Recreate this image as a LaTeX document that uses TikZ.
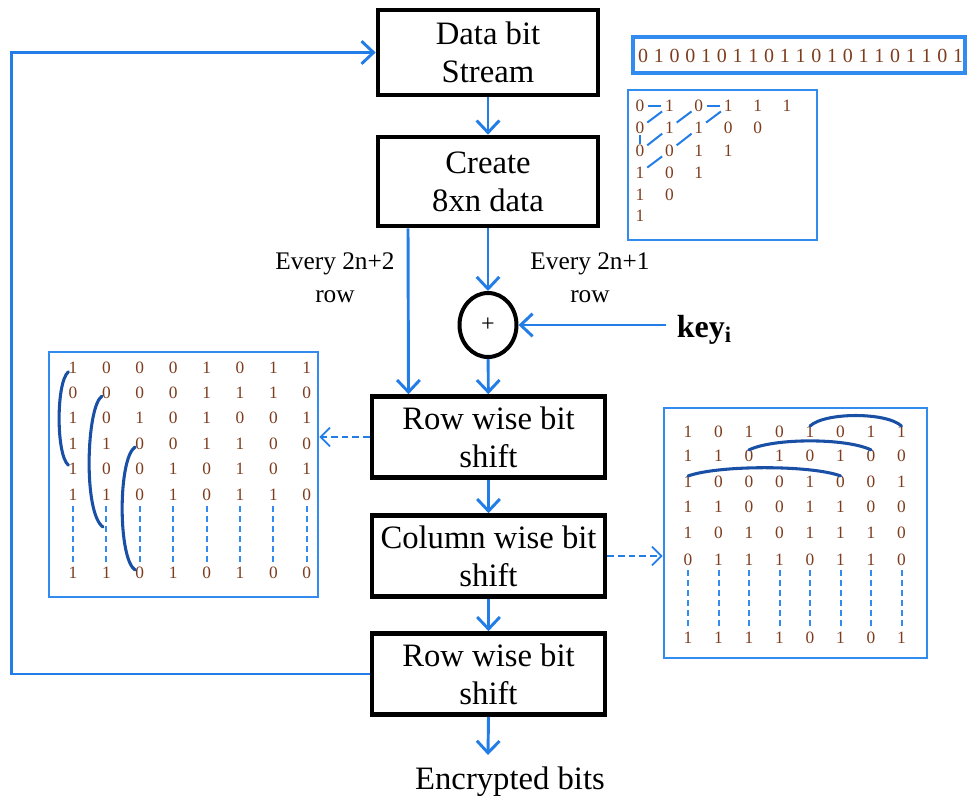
\documentclass[tikz,border=0pt]{standalone}
\usepackage{fontspec}
\setmainfont{Liberation Serif}
\usetikzlibrary{arrows.meta,shapes.geometric}

\definecolor{flowblue}{RGB}{35,125,230}
\definecolor{frameblue}{RGB}{50,140,240}
\definecolor{arcblue}{RGB}{25,80,165}
\definecolor{bitcol}{RGB}{125,60,30}

\tikzset{
  stage/.style={draw=black, line width=3.5pt, fill=white, align=center,
    font=\fontsize{24.5}{28.5}\selectfont, inner sep=0pt},
  flow/.style={draw=flowblue, line width=2.2pt,
    -{Straight Barb[length=9pt,width=17pt]}},
  peek/.style={draw=flowblue, line width=1.3pt, dash pattern=on 5pt off 3pt,
    -{Straight Barb[length=7pt,width=14pt]}},
  bitframe/.style={draw=frameblue, line width=2.2pt, inner sep=0pt},
  bit/.style={text=bitcol, font=\fontsize{13}{13}\selectfont, inner sep=0pt},
  streambit/.style={text=bitcol, font=\fontsize{15}{15}\selectfont, inner sep=0pt},
  colgap/.style={draw=frameblue, line width=1.5pt, dash pattern=on 4.5pt off 3pt},
  bitarc/.style={draw=arcblue, line width=2.3pt, line cap=round},
  zig/.style={draw=flowblue, line width=1.5pt, shorten <=2.5pt, shorten >=2.5pt},
  note/.style={align=center, font=\fontsize{19}{24.5}\selectfont, inner sep=0pt}
}

\begin{document}
\begin{tikzpicture}[x=0.75pt,y=-0.75pt]
\useasboundingbox (0,0) rectangle (974,800);

% ---------- main pipeline ----------
\node[stage, minimum width=165pt, minimum height=63.75pt] (data) at (488,52.5) {Data bit\\Stream};
\node[stage, minimum width=165pt, minimum height=66.75pt] (create) at (488,181.5) {Create\\8xn data};
\node[draw=black, line width=3pt, ellipse, minimum width=42.75pt, minimum height=48pt,
      inner sep=0pt, font=\fontsize{18}{18}\selectfont] (xor) at (488,325) {+};
\node[stage, minimum width=174.75pt, minimum height=60.75pt] (row1) at (488.5,437) {Row wise bit\\shift};
\node[stage, minimum width=174.75pt, minimum height=60.75pt] (col) at (488.5,556) {Column wise bit\\shift};
\node[stage, minimum width=174.75pt, minimum height=60.75pt] (row2) at (488.5,674) {Row wise bit\\shift};

\node[inner sep=0pt, font=\fontsize{24.5}{28}\selectfont] (enc) at (510,782) {Encrypted bits};
\coordinate (encin) at (488,755);

\node[anchor=west, inner xsep=8pt, inner ysep=0pt, font=\fontsize{24}{24}\selectfont\bfseries]
  (key) at (666,330) {key\textsubscript{i}};

\node[note] (odd) at (590,278) {Every 2n+1\\row};
\node[note] (even) at (335,278) {Every 2n+2\\row};

% connectors
\draw[flow] (data) -- (create);
\draw[flow] (create) -- (xor);
\draw[flow] (xor) -- (row1);
\draw[flow] ([xshift=-60pt]create.south) -- ([xshift=-60pt]row1.north);
\draw[flow] (key.west |- xor.east) -- (xor.east);
\draw[flow] (row1) -- (col);
\draw[flow] (col) -- (row2);
\draw[flow] (row2.south) -- (encin);
\draw[flow] (row2.west) -- ++(-358,0) |- (data.west);

% ---------- bit stream and zig-zag fill ----------
\node[bitframe, line width=3pt, minimum width=249pt, minimum height=27pt] (stream) at (799,55) {};
\foreach \b [count=\i] in {0,1,0,0,1,0,1,1,0,1,1,0,1,0,1,1,0,1,1,0,1}
  \node[streambit] (S-\i) at ({643+15.75*(\i-1)},56) {\b};

\node[bitframe, minimum width=141.75pt, minimum height=112.5pt] (tri) at (722.5,165) {};
\foreach \r/\y/\bits in {1/106/{0,1,0,1,1,1}, 2/128/{0,1,1,0,0}, 3/151/{0,0,1,1},
                         4/173/{1,0,1}, 5/195/{1,0}, 6/216/{1}}
  \foreach \b [count=\c] in \bits
    \node[bit] (T-\r-\c) at ({640+29.4*(\c-1)},\y) {\b};

\draw[zig] (T-1-1) -- (T-1-2);
\draw[zig] (T-1-2) -- (T-2-1);
\draw[zig, shorten <=1pt, shorten >=1pt] (T-2-1) -- (T-3-1);
\draw[zig] (T-3-1) -- (T-2-2);
\draw[zig] (T-2-2) -- (T-1-3);
\draw[zig] (T-1-3) -- (T-1-4);
\draw[zig] (T-1-4) -- (T-2-3);
\draw[zig] (T-2-3) -- (T-3-2);
\draw[zig] (T-3-2) -- (T-4-1);

% ---------- row-shift matrix ----------
\node[bitframe, minimum width=201.75pt, minimum height=183.75pt] (lmat) at (183.5,474.5) {};
\foreach \r/\y/\bits in {1/368/{1,0,0,0,1,0,1,1}, 2/393/{0,0,0,0,1,1,1,0},
                         3/418/{1,0,1,0,1,0,0,1}, 4/444/{1,1,0,0,1,1,0,0},
                         5/469/{1,0,0,1,0,1,0,1}, 6/495/{1,1,0,1,0,1,1,0},
                         7/573/{1,1,0,1,0,1,0,0}}
  \foreach \b [count=\c] in \bits
    \node[bit] (L-\r-\c) at ({73+33.4*(\c-1)},\y) {\b};
\foreach \c in {1,...,8}
  \draw[colgap, shorten <=4pt, shorten >=4pt] (L-6-\c) -- (L-7-\c);

\coordinate (L-end2) at (103,527);
\draw[bitarc] (L-1-1) .. controls +(-17,14) and +(-17,-14) .. (L-5-1);
\draw[bitarc] (L-2-2) .. controls +(-20,14) and +(-20,-14) .. (L-end2);
\draw[bitarc] (L-4-3) .. controls +(-22,14) and +(-22,-14) .. (L-7-3);

% ---------- column-shift matrix ----------
\node[bitframe, minimum width=197.25pt, minimum height=187.5pt] (rmat) at (795.5,533) {};
\foreach \r/\y/\bits in {1/432/{1,0,1,0,1,0,1,1}, 2/456/{1,1,0,1,0,1,0,0},
                         3/482/{1,0,0,0,1,0,0,1}, 4/507/{1,1,0,0,1,1,0,0},
                         5/533/{1,0,1,0,1,1,1,0}, 6/560/{0,1,1,1,0,1,1,0},
                         7/638/{1,1,1,1,0,1,0,1}}
  \foreach \b [count=\c] in \bits
    \node[bit] (R-\r-\c) at ({688+30.5*(\c-1)},\y) {\b};
\foreach \c in {1,...,8}
  \draw[colgap, shorten <=3pt, shorten >=3pt] (R-6-\c) -- (R-7-\c);

\draw[bitarc] (R-1-5.north) .. controls +(15,-14) and +(-15,-14) .. (R-1-8.north);
\draw[bitarc] (R-2-3.north) .. controls +(25,-12) and +(-25,-12) .. (R-2-7.north);
\draw[bitarc] (R-3-1.north) .. controls +(30,-11) and +(-30,-11) .. (R-3-6.north);

% ---------- links to the example matrices ----------
\draw[peek] (row1.west) -- (lmat.east |- row1.west);
\draw[peek] (col.east) -- (rmat.west |- col.east);
\end{tikzpicture}
\end{document}
